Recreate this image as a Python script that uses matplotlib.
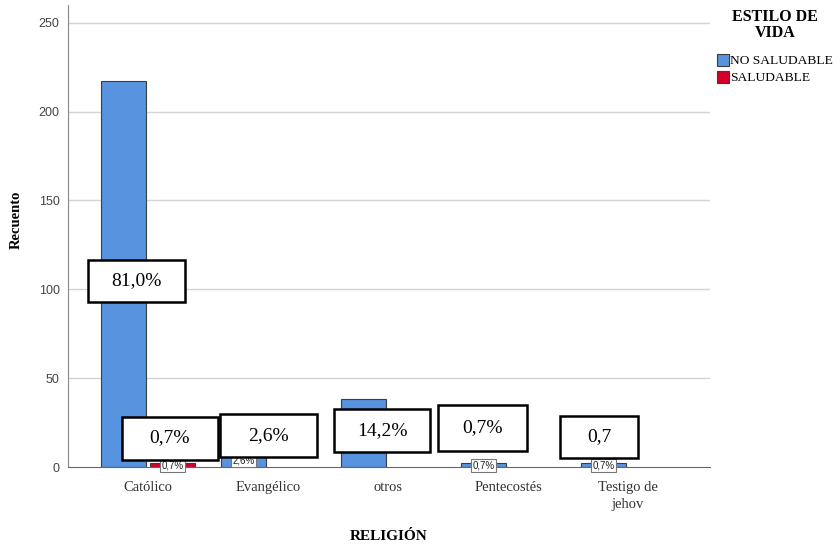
import numpy as np
import matplotlib.pyplot as plt
from matplotlib.patches import Rectangle

religiones = ['Católico', 'Evangélico', 'otros', 'Pentecostés', 'Testigo de\njehov']
no_saludable = [217, 7, 38, 2, 2]
saludable = [2, 0, 0, 0, 0]
estilos = ['NO SALUDABLE', 'SALUDABLE']

total = sum(no_saludable) + sum(saludable)


def porcentaje(n):
    return f'{100 * n / total:.1f}%'.replace('.', ',')


azul = '#5893e0'
rojo = '#d5002a'
serif = 'Liberation Serif'
sans = 'Liberation Sans'

fig = plt.figure(figsize=(8.4, 5.48), dpi=100)
ax = fig.add_axes([68 / 840, 1 - 467 / 548, (710 - 68) / 840, (467 - 5) / 548])

x = np.arange(len(religiones))
ancho = 0.375
desp = 0.204

barras = []
for i in range(len(religiones)):
    for serie, valores, color, lado in [(0, no_saludable, azul, -1), (1, saludable, rojo, 1)]:
        if valores[i] > 0:
            ax.bar(x[i] + lado * desp, valores[i], ancho, color=color,
                   edgecolor='#3c3c3c', lw=0.8, zorder=2)
            barras.append((i, serie, x[i] + lado * desp, valores[i]))

# etiquetas pequeñas en el centro de cada barra
for i, serie, xc, v in barras:
    ax.text(xc, v / 2, porcentaje(v), ha='center', va='center', fontsize=7,
            family=sans, color='#222222', zorder=3,
            bbox=dict(boxstyle='square,pad=0.15', fc='white', ec='#777777', lw=0.8))

# recuadros grandes: (barra, dx desde el centro de la categoría, y, ancho px, alto px)
recuadros = [
    (0, -0.10, 104.7, 97, 42),
    (1, 0.18, 16.3, 96, 43),
    (2, 0.0, 17.5, 97, 43),
    (3, -0.05, 20.3, 96, 43),
    (4, -0.217, 22.0, 89, 46),
    (5, -0.24, 16.9, 78, 42),
]
px_x = 120.0
px_y = 444 / 250
for k, (b, dx, yc, w, h) in enumerate(recuadros):
    i, serie, xc, v = barras[b]
    cx = x[i] + dx
    wd = w / px_x
    hd = h / px_y
    ax.add_patch(Rectangle((cx - wd / 2, yc - hd / 2), wd, hd, fc='white',
                           ec='black', lw=1.8, zorder=4))
    texto = porcentaje(v)
    if k == len(recuadros) - 1:
        texto = texto[:-1]
    ax.text(cx, yc, texto, ha='center', va='center', fontsize=14,
            family=serif, color='black', zorder=5)

ax.set_xlim(-0.667, 4.683)
ax.set_ylim(0, 260)
ax.set_yticks([0, 50, 100, 150, 200, 250])
for t in [50, 100, 150, 200, 250]:
    ax.axhline(t, color='#d4d4d4', lw=1, zorder=0)
ax.set_xticks(x)
ax.set_xticklabels(religiones, family=serif, fontsize=10.5, color='#333333',
                   linespacing=1.45)
for lab in ax.get_yticklabels():
    lab.set_family(sans)
    lab.set_fontsize(9)
    lab.set_color('#444444')
ax.tick_params(length=0)
ax.tick_params(axis='y', pad=6)
ax.tick_params(axis='x', pad=10)
for s in ['top', 'right']:
    ax.spines[s].set_visible(False)
ax.spines['left'].set_color('#888888')
ax.spines['bottom'].set_color('#666666')

fig.text(16 / 840, 1 - 220 / 548, 'Recuento', family=serif, fontsize=10.5,
         fontweight='bold', rotation=90, ha='center', va='center')
fig.text(389 / 840, 1 - 536 / 548, 'RELIGIÓN', family=serif, fontsize=11,
         fontweight='bold', ha='center', va='center')

manijas = [Rectangle((0, 0), 1, 1, fc=azul, ec='#3c3c3c', lw=0.8),
           Rectangle((0, 0), 1, 1, fc=rojo, ec='#3c3c3c', lw=0.8)]
leg = fig.legend(manijas, estilos, loc='upper left', bbox_to_anchor=(710 / 840, 1 - 2 / 548),
                 frameon=False, borderpad=0, handlelength=0.9, handleheight=1.0,
                 handletextpad=0.1, labelspacing=0.25,
                 title='ESTILO DE\nVIDA', prop=dict(family=serif, size=9.7),
                 title_fontproperties=dict(family=serif, size=11.5, weight='bold'))
leg.get_title().set_multialignment('center')
leg.get_title().set_linespacing(1.05)
leg._legend_box.sep = 9

fig.savefig('out.png', dpi=100)
